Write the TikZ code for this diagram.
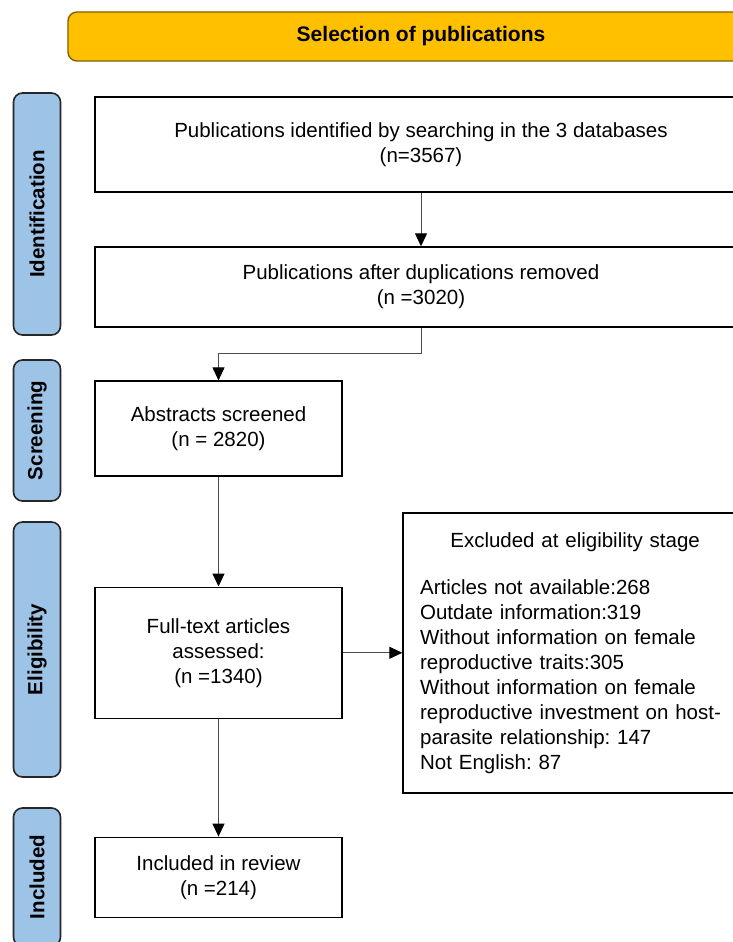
\documentclass[tikz,border=0pt]{standalone}
\usepackage{fontspec}
\setmainfont{Liberation Sans}
\usepackage{xcolor}
\usetikzlibrary{arrows.meta,positioning}

\definecolor{phaseblue}{HTML}{9DC3E6}
\definecolor{titlegold}{HTML}{FFC000}
\definecolor{titleedge}{HTML}{7F6000}
\frenchspacing

\begin{document}
\begin{tikzpicture}[
  x=1pt, y=-1pt,
  font=\fontsize{20.5}{25}\selectfont,
  box/.style={draw, line width=1.6pt, align=center, inner sep=0pt},
  wide/.style={box, minimum width=652pt},
  narrow/.style={box, minimum width=247pt},
  exclbox/.style={box, align=left, text width=310pt, minimum height=280pt, inner xsep=17pt},
  phase/.style={draw=black!85, fill=phaseblue, line width=1.6pt, rounded corners=9pt, rotate=90,
    minimum height=47pt, font=\fontsize{20.5}{25}\selectfont\bfseries},
  titlebar/.style={draw=titleedge, fill=titlegold, line width=1.4pt, rounded corners=9pt,
    minimum width=706pt, minimum height=49pt, font=\fontsize{21}{25}\selectfont\bfseries},
  arr/.style={-{Triangle[width=12pt,length=13pt,color=black]}, line width=1pt, draw=black!70},
]
\useasboundingbox (0,0) rectangle (733,942);
\clip (0,0) rectangle (733,942);

% header
\node[titlebar] (title) at (421,36.5) {Selection of publications};

% phases
\node[phase, minimum width=242pt] (identification) at (37,214) {Identification};
\node[phase, minimum width=141pt] (screening) at (37,430.5) {Screening};
\node[phase, minimum width=255pt] (eligibility) at (37,649.5) {Eligibility};
\node[phase, minimum width=138pt] (included) at (37,877) {Included};

% flow
\node[wide, minimum height=95pt] (search) at (421,144.5) {Publications identified by searching in the 3 databases\\(n=3567)};
\node[wide, minimum height=80pt, below=53.5pt of search] (dupl) {Publications after duplications removed\\(n =3020)};
\node[narrow, minimum height=95pt, below=52.5pt of dupl.south west, anchor=north west] (abstr) {Abstracts screened\\(n = 2820)};
\node[narrow, minimum height=131pt, below=109.5pt of abstr] (full) {Full-text articles\\assessed:\\(n =1340)};
\node[narrow, minimum height=80pt, below=117.5pt of full] (incl) {Included in review\\(n =214)};
\node[exclbox, right=59.5pt of full] (excl) {\makebox[\linewidth]{Excluded at eligibility stage}\\[22pt]
  Articles not available:268\\
  Outdate information:319\\
  Without information on female\\
  reproductive traits:305\\
  Without information on female\\
  reproductive investment on host-\\
  parasite relationship: 147\\
  Not English: 87};

\draw[arr] (search) -- (dupl);
\draw[arr] (dupl.south) -- ++(0,26) -| (abstr);
\draw[arr] (abstr) -- (full);
\draw[arr] (full) -- (excl);
\draw[arr] (full) -- (incl);
\end{tikzpicture}
\end{document}
